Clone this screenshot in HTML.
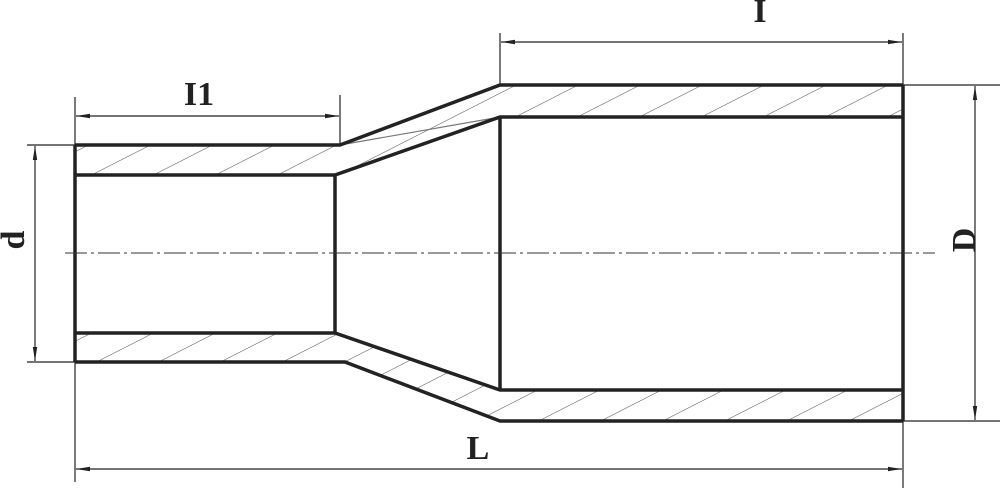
<!DOCTYPE html>
<html><head><style>body{margin:0;background:#fff}svg{display:block}</style></head><body>
<svg width="1000" height="488" viewBox="0 0 1000 488" xmlns="http://www.w3.org/2000/svg">
<defs>
<pattern id="h" patternUnits="userSpaceOnUse" width="62" height="200" patternTransform="skewX(-63)">
<line x1="1" y1="0" x2="1" y2="200" stroke="#666" stroke-width="1.3"/>
</pattern>
<marker id="a" markerWidth="14" markerHeight="6" refX="14" refY="3" orient="auto-start-reverse" markerUnits="userSpaceOnUse"><path d="M0,0.8 L14,3 L0,5.2Z" fill="#222"/></marker>
</defs>
<path d="M75,145 L340,145 L500,85 L903,85 L903,117 L500,117 L335,175 L75,175Z" fill="url(#h)"/>
<path d="M75,333 L335,333 L500,390 L903,390 L903,421 L500,421 L345,362 L75,362Z" fill="url(#h)"/>
<line x1="340" y1="145" x2="500" y2="117" stroke="#777" stroke-width="1.2"/>
<g fill="none" stroke="#222" stroke-width="3.5" stroke-linejoin="miter">
<path d="M75,145 L340,145 L500,85 L903,85"/>
<path d="M75,175 L335,175 L500,117 L903,117"/>
<path d="M75,333 L335,333 L500,390 L903,390"/>
<path d="M75,362 L345,362 L500,421 L903,421"/>
<path d="M75,145 V362 M335,175 V333 M500,117 V390 M903,85 V421"/>
</g>
<line x1="65" y1="253" x2="935" y2="253" stroke="#333" stroke-width="1" stroke-dasharray="22,4,3,4"/>
<g stroke="#222" stroke-width="1.2" fill="none">
<line x1="75" y1="97" x2="75" y2="145"/><line x1="340" y1="95" x2="340" y2="145"/>
<line x1="76" y1="116" x2="339" y2="116" marker-start="url(#a)" marker-end="url(#a)"/>
<line x1="500" y1="33" x2="500" y2="85"/><line x1="903" y1="33" x2="903" y2="85"/>
<line x1="501" y1="42" x2="902" y2="42" marker-start="url(#a)" marker-end="url(#a)"/>
<line x1="27" y1="145" x2="75" y2="145"/><line x1="27" y1="362" x2="75" y2="362"/>
<line x1="35" y1="146" x2="35" y2="361" marker-start="url(#a)" marker-end="url(#a)"/>
<line x1="903" y1="85" x2="1000" y2="85"/><line x1="903" y1="421" x2="1000" y2="421"/>
<line x1="975" y1="86" x2="975" y2="420" marker-start="url(#a)" marker-end="url(#a)"/>
<line x1="75" y1="362" x2="75" y2="482"/><line x1="903" y1="421" x2="903" y2="488"/>
<line x1="76" y1="469" x2="902" y2="469" marker-start="url(#a)" marker-end="url(#a)"/>
</g>
<g font-family="Liberation Serif, serif" font-weight="bold" fill="#222" font-size="34">
<text x="199" y="105" text-anchor="middle">I1</text>
<text x="760" y="22" text-anchor="middle">I</text>
<text x="478" y="459" text-anchor="middle">L</text>
<text transform="translate(24,240) rotate(-90)" text-anchor="middle">d</text>
<text transform="translate(975,240) rotate(-90)" text-anchor="middle">D</text>
</g>
</svg>
</body></html>
